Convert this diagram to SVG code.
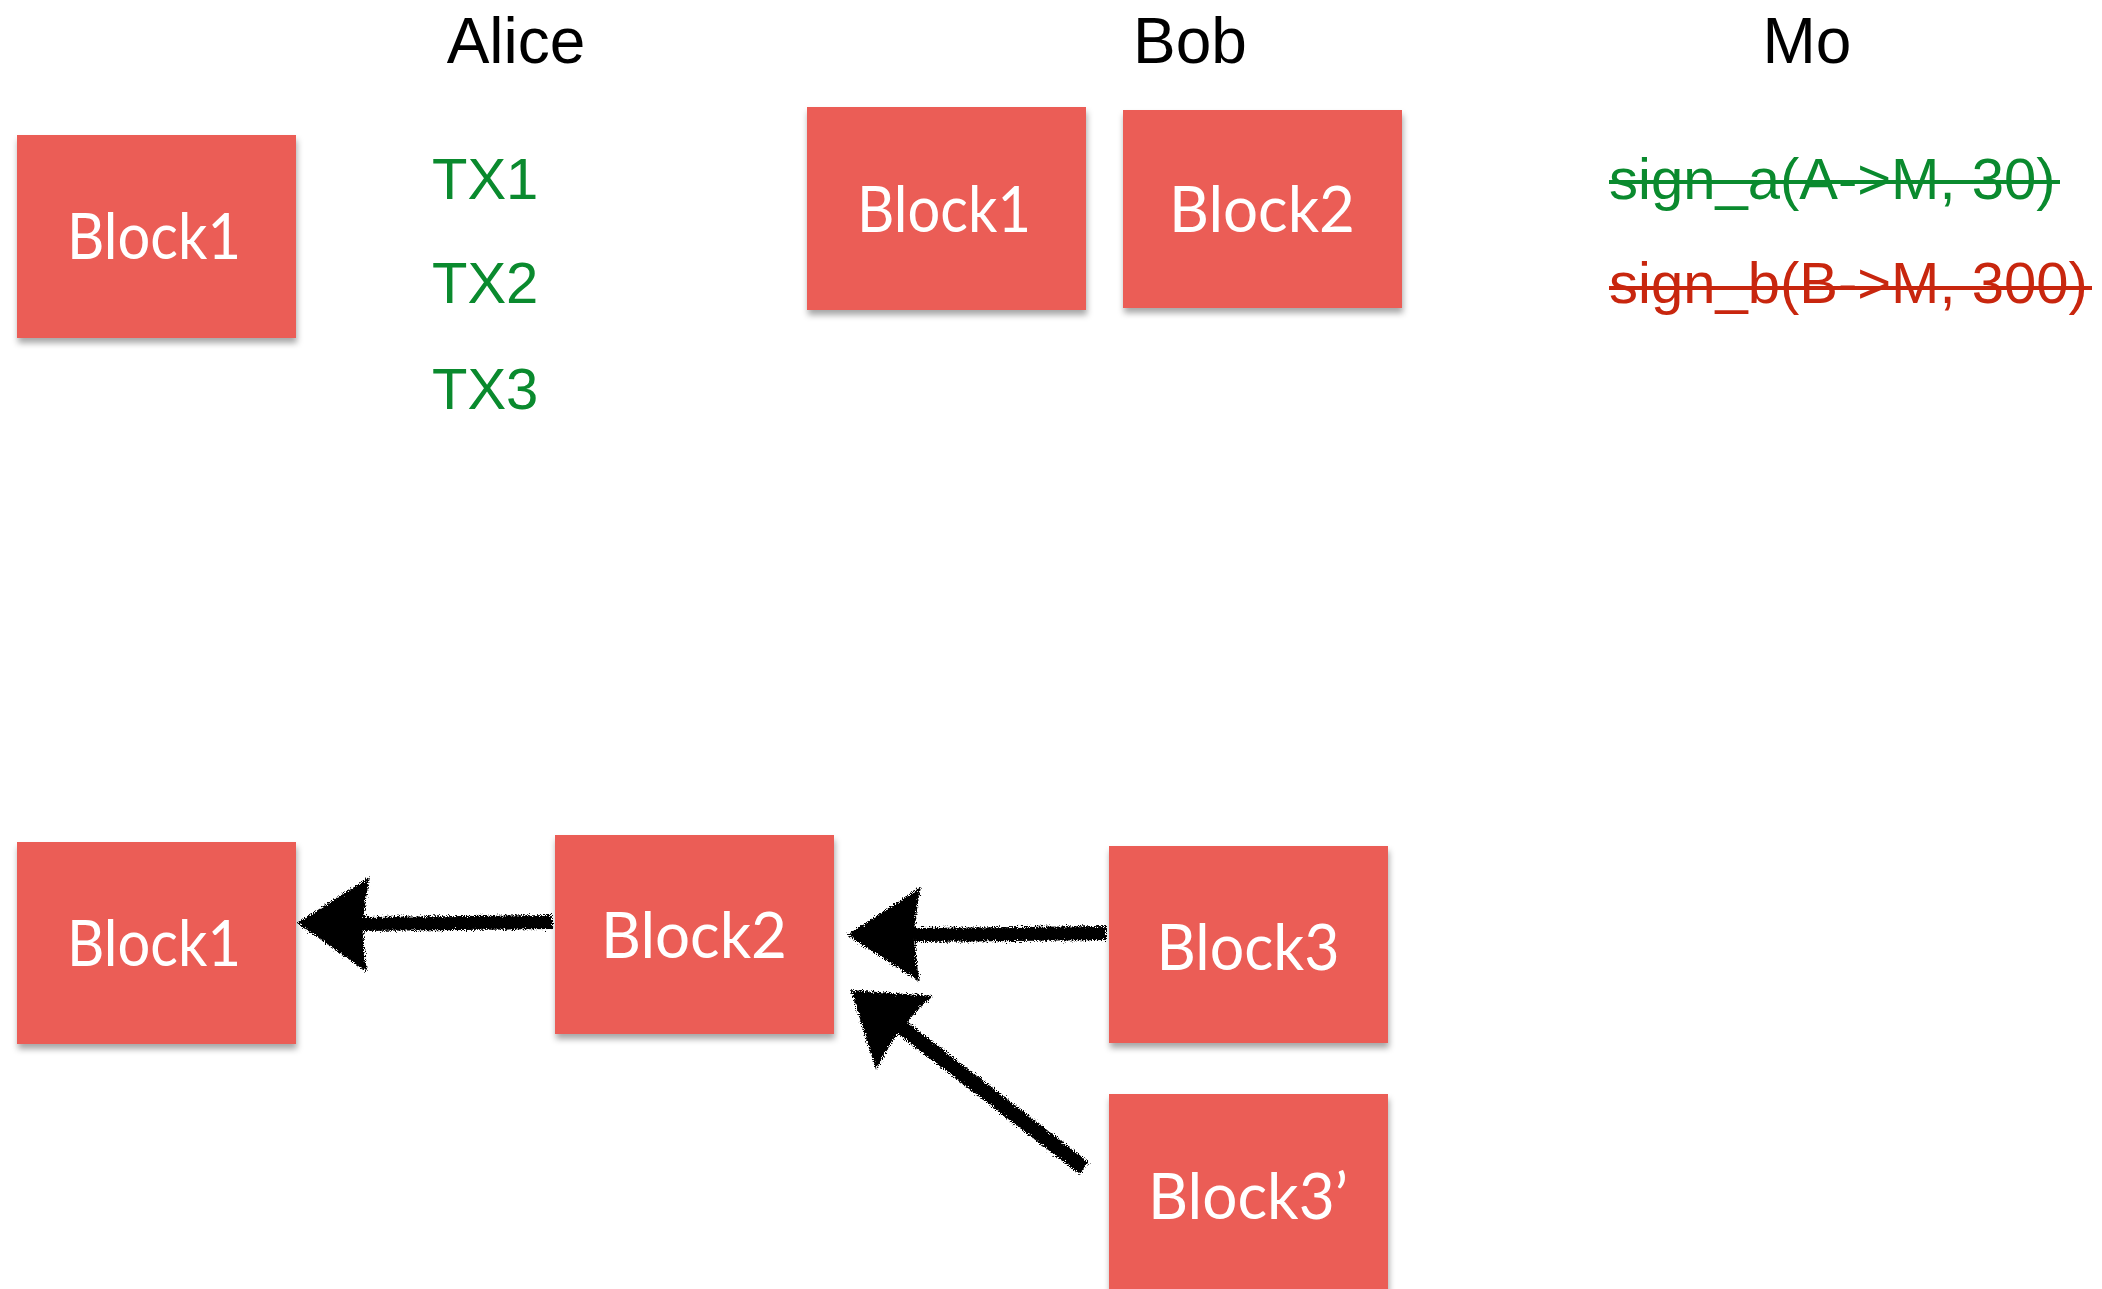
<svg xmlns="http://www.w3.org/2000/svg" width="2102" height="1289" viewBox="0 0 2102 1289">
  <style>
    .block { fill: #eb5d57; filter: url(#shadow); }
    .blabel { font-family: Lato, "Open Sans", sans-serif; font-size: 64px; fill: #ffffff; text-anchor: middle; }
    .head { font-family: "Liberation Sans", Arial, sans-serif; font-size: 64px; fill: #000000; text-anchor: middle; }
    .tx { font-family: "Liberation Sans", Arial, sans-serif; font-size: 58px; fill: #0a8a2e; }
    .sig { font-family: "Liberation Sans", Arial, sans-serif; font-size: 58px; }
    .shaft { stroke: #000; fill: none; stroke-linecap: butt; }
  </style>
  <defs>
    <filter id="shadow" x="-10%" y="-10%" width="125%" height="130%">
      <feDropShadow dx="1" dy="5" stdDeviation="3" flood-color="#000" flood-opacity="0.35"/>
    </filter>
    <filter id="rough" x="-15%" y="-15%" width="130%" height="130%">
      <feTurbulence type="fractalNoise" baseFrequency="0.9" numOctaves="2" seed="4" result="noise"/>
      <feDisplacementMap in="SourceGraphic" in2="noise" scale="8" xChannelSelector="R" yChannelSelector="G"/>
    </filter>
  </defs>
  <rect width="2102" height="1289" fill="#ffffff"/>

  <!-- column headings -->
  <g id="heading-alice"><text class="head" x="516" y="63">Alice</text></g>
  <g id="heading-bob"><text class="head" x="1190" y="63">Bob</text></g>
  <g id="heading-mo"><text class="head" x="1807" y="63">Mo</text></g>

  <!-- Alice: one block, pending transactions -->
  <g id="alice-block1">
    <rect class="block" x="17" y="135" width="279" height="203"/>
    <text class="blabel" x="154" y="259" textLength="174" lengthAdjust="spacingAndGlyphs">Block1</text>
  </g>
  <g id="alice-txs">
    <text class="tx" x="432" y="199">TX1</text>
    <text class="tx" x="432" y="303">TX2</text>
    <text class="tx" x="432" y="409">TX3</text>
  </g>

  <!-- Bob: two blocks -->
  <g id="bob-block1">
    <rect class="block" x="807" y="107" width="279" height="203"/>
    <text class="blabel" x="944" y="232" textLength="174" lengthAdjust="spacingAndGlyphs">Block1</text>
  </g>
  <g id="bob-block2">
    <rect class="block" x="1123" y="110" width="279" height="198"/>
    <text class="blabel" x="1262" y="232" textLength="186" lengthAdjust="spacingAndGlyphs">Block2</text>
  </g>

  <!-- Mo: struck-through signatures -->
  <g id="mo-sign-a">
    <text class="sig" x="1609" y="199" fill="#0a8a2e">sign_a(A-&gt;M, 30)</text>
    <line x1="1609" y1="182" x2="2060" y2="182" stroke="#0a8a2e" stroke-width="4"/>
  </g>
  <g id="mo-sign-b">
    <text class="sig" x="1609" y="303" fill="#c8260e">sign_b(B-&gt;M, 300)</text>
    <line x1="1609" y1="288" x2="2092" y2="288" stroke="#c8260e" stroke-width="4"/>
  </g>

  <!-- chain with a fork -->
  <g id="chain-block1">
    <rect class="block" x="17" y="842" width="279" height="202"/>
    <text class="blabel" x="154" y="966" textLength="174" lengthAdjust="spacingAndGlyphs">Block1</text>
  </g>
  <g id="chain-block2">
    <rect class="block" x="555" y="835" width="279" height="199"/>
    <text class="blabel" x="694" y="958" textLength="186" lengthAdjust="spacingAndGlyphs">Block2</text>
  </g>
  <g id="chain-block3">
    <rect class="block" x="1109" y="846" width="279" height="197"/>
    <text class="blabel" x="1248" y="970" textLength="183" lengthAdjust="spacingAndGlyphs">Block3</text>
  </g>
  <g id="chain-block3-alt">
    <rect class="block" x="1109" y="1094" width="279" height="205"/>
    <text class="blabel" x="1248" y="1219" textLength="200" lengthAdjust="spacingAndGlyphs">Block3’</text>
  </g>

  <!-- hand-drawn back-pointers -->
  <g id="connectors" filter="url(#rough)" fill="#000">
    <line class="shaft" x1="360" y1="924" x2="552" y2="922" stroke-width="14"/>
    <path d="M297,923 L370,877 Q359,924 367,972 Z"/>

    <line class="shaft" x1="915" y1="935" x2="1106" y2="933" stroke-width="14"/>
    <path d="M847,935 L921,887 Q910,935 920,982 Z"/>

    <line class="shaft" x1="900" y1="1026" x2="1084" y2="1168" stroke-width="15"/>
    <path d="M851,990 L933,996 Q898,1025 876,1070 Z"/>
  </g>
</svg>
